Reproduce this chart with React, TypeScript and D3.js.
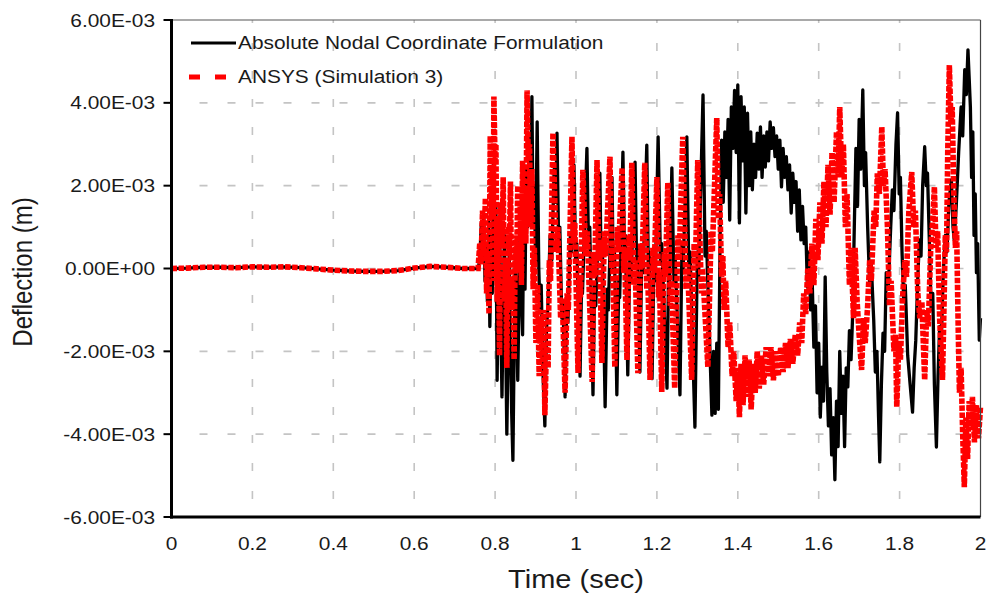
import React from "react";
import * as d3 from "d3";

const WIDTH = 987;
const HEIGHT = 597;
const PLOT = { left: 171.5, right: 980.5, top: 20, bottom: 517 };

const xTicks = [0, 0.2, 0.4, 0.6, 0.8, 1, 1.2, 1.4, 1.6, 1.8, 2];
const xTickLabels = ["0", "0.2", "0.4", "0.6", "0.8", "1", "1.2", "1.4", "1.6", "1.8", "2"];
const yTicks = [-6e-3, -4e-3, -2e-3, 0, 2e-3, 4e-3, 6e-3];
const yTickLabels = ["-6.00E-03", "-4.00E-03", "-2.00E-03", "0.00E+00", "2.00E-03", "4.00E-03", "6.00E-03"];
const seriesNames = ["Absolute Nodal Coordinate Formulation", "ANSYS (Simulation 3)"];
const xTitle = "Time (sec)";
const yTitle = "Deflection (m)";

// deflection values below are in units of 1e-3 m
const UNIT = 1e-3;

type Pt = [number, number];

const restPhase: Pt[] = [
  [0, 0], [0.04, 0.01], [0.08, 0.03], [0.12, 0.03], [0.16, 0.02], [0.2, 0.04], [0.24, 0.03],
  [0.28, 0.04], [0.32, 0.02], [0.36, -0.01], [0.4, -0.04], [0.44, -0.06], [0.48, -0.07],
  [0.52, -0.07], [0.56, -0.05], [0.6, 0.01], [0.64, 0.05], [0.68, 0.03], [0.72, 0.0], [0.755, 0.0],
];

const ancfBurst: Pt[] = [
  [0.758, 0.0], [0.762, 0.2], [0.766, 1.1], [0.769, 0.2], [0.772, 1.3], [0.775, -0.3], [0.778, 0.6],
  [0.781, -0.8], [0.784, 1.2], [0.787, -1.4], [0.79, 0.8], [0.793, -0.6], [0.796, 2.6], [0.799, 0.4],
  [0.802, 1.5], [0.805, -2.7], [0.808, -0.5], [0.811, 1.2], [0.814, -1.2], [0.817, -3.1], [0.82, -1.0],
  [0.823, 0.8], [0.826, -1.6], [0.829, -4.0], [0.832, -2.0], [0.835, 0.3], [0.838, -1.8], [0.841, -3.5],
  [0.844, -4.63], [0.847, -2.0], [0.85, 0.5], [0.853, -1.0], [0.856, -2.7], [0.859, -0.8], [0.862, 1.0],
  [0.865, -0.6], [0.868, -1.6], [0.871, 1.5], [0.874, -0.5], [0.877, 2.4], [0.88, 1.0], [0.884, 3.2],
  [0.888, 2.0], [0.891, 4.15], [0.894, 1.0], [0.897, 2.0], [0.9, 0.2], [0.904, 3.54], [0.908, 0.0],
  [0.911, -1.0], [0.914, -0.4], [0.918, -2.4], [0.923, -3.8], [0.927, -1.5], [0.931, -0.8],
];

const ancfSteady: Pt[] = [
  [0.936, 0.8], [0.94, 0.2], [0.946, 2.4], [0.95, 1.6], [0.953, 3.27], [0.957, 0.6], [0.96, 1.0],
  [0.965, -1.2], [0.968, -0.8], [0.973, -3.1], [0.977, -0.9], [0.98, -1.3], [0.986, 0.8], [0.989, 0.4],
  [0.995, 2.5], [0.999, 0.2], [1.002, 0.6], [1.01, -2.6], [1.014, -0.2], [1.016, -0.6], [1.027, 2.9],
  [1.031, 0.5], [1.034, 1.0], [1.042, -3.05], [1.046, -0.4], [1.049, -0.9], [1.059, 2.3], [1.062, 0.2],
  [1.065, 0.7], [1.072, -3.34], [1.077, -0.5], [1.08, -1.0], [1.089, 2.2], [1.092, 0.0], [1.095, 0.5],
  [1.101, -3.05], [1.106, -0.2], [1.108, -0.7], [1.116, 2.81], [1.12, 0.3], [1.122, 0.8], [1.128, -2.57],
  [1.133, 0.2], [1.136, -0.3], [1.146, 2.57], [1.15, 0.0], [1.152, 0.5], [1.158, -2.5], [1.163, 0.5],
  [1.166, -0.1], [1.175, 2.98], [1.179, -0.2], [1.181, 0.4], [1.188, -2.66], [1.193, 0.3], [1.196, -0.3],
  [1.203, 3.18], [1.209, 0.1], [1.212, 0.6], [1.225, -2.89], [1.229, 0.0], [1.231, -0.5], [1.237, 2.43],
  [1.242, -0.3], [1.245, 0.3], [1.257, -3.05], [1.262, 0.6], [1.265, 0.0], [1.274, 3.18], [1.279, -0.2],
  [1.282, 0.4], [1.294, -3.83], [1.3, 0.4], [1.303, -0.2], [1.314, 4.19], [1.319, 0.3], [1.322, 0.9],
  [1.336, -3.54], [1.34, -2.0], [1.344, -3.5], [1.348, -1.8], [1.352, -3.4], [1.356, 0.5], [1.36, 3.1],
];

const ancfHump: Pt[] = [
  [1.364, 1.6], [1.368, 3.3], [1.372, 2.2], [1.376, 3.6], [1.38, 1.17], [1.384, 3.9], [1.388, 2.9],
  [1.392, 4.3], [1.396, 2.8], [1.4, 4.43], [1.404, 1.1], [1.408, 4.15], [1.412, 2.6], [1.416, 3.9],
  [1.42, 1.34], [1.424, 3.75], [1.428, 2.0], [1.432, 3.3], [1.436, 1.9], [1.44, 3.0], [1.444, 2.2],
  [1.448, 3.27], [1.452, 2.4], [1.456, 3.42], [1.46, 2.2], [1.464, 3.2], [1.468, 2.45], [1.472, 3.3],
  [1.476, 2.6], [1.48, 3.54], [1.484, 2.9], [1.488, 3.4], [1.492, 2.7], [1.496, 3.2], [1.5, 2.4],
  [1.504, 3.1], [1.508, 1.97], [1.512, 2.9], [1.516, 2.2], [1.52, 2.7], [1.524, 1.9], [1.528, 2.5],
  [1.532, 1.34], [1.536, 2.3], [1.54, 1.6], [1.544, 2.1], [1.548, 0.9], [1.552, 1.9], [1.556, 0.69],
  [1.56, 1.5], [1.564, 0.6], [1.568, 1.0], [1.572, -0.45], [1.576, 0.4], [1.58, -1.0], [1.584, -0.3],
  [1.588, -1.9], [1.592, -0.9], [1.596, -3.0], [1.6, -1.8], [1.604, -3.59], [1.608, -2.38], [1.612, -3.2],
  [1.616, -0.2], [1.62, -2.5], [1.624, -3.8], [1.628, -2.9], [1.632, -4.5], [1.636, -3.6], [1.64, -5.1],
  [1.644, -3.2], [1.648, -4.3], [1.652, -2.0], [1.656, -3.5], [1.66, -2.6], [1.664, -4.3], [1.668, -2.4],
  [1.672, -2.86], [1.676, -1.5], [1.68, -2.2], [1.684, -1.1], [1.688, 1.0], [1.692, 2.9],
];

const ancfLate: Pt[] = [
  [1.696, 1.5], [1.7, 3.6], [1.704, 2.4], [1.709, 4.31], [1.713, 2.0], [1.716, 2.8], [1.721, 1.0],
  [1.726, -0.4], [1.73, 0.1], [1.736, -1.24], [1.74, -2.5], [1.744, -2.0], [1.748, -3.6], [1.751, -4.67],
  [1.755, -2.8], [1.759, -1.56], [1.763, -2.0], [1.767, -0.1], [1.772, -0.5], [1.778, 1.0], [1.782, 1.9],
  [1.786, 1.4], [1.791, 3.0], [1.795, 3.76], [1.799, 1.8], [1.802, 2.2], [1.806, 0.4], [1.81, -0.76],
  [1.814, -0.4], [1.82, -2.1], [1.826, -2.8], [1.832, -3.47], [1.836, -2.4], [1.84, -1.73], [1.845, -0.2],
  [1.849, 0.69], [1.853, 0.3], [1.857, 2.0], [1.862, 2.94], [1.866, 2.0], [1.869, 2.3], [1.874, 0.5],
  [1.878, -1.0], [1.882, -0.6], [1.886, -2.8], [1.891, -4.31], [1.895, -2.6], [1.899, -1.4], [1.903, -1.8],
  [1.908, -0.1], [1.913, 0.8], [1.917, 0.4], [1.922, 1.6], [1.928, 2.14], [1.932, 1.0], [1.935, 0.69],
  [1.94, 1.5], [1.946, 2.8], [1.952, 3.9], [1.956, 3.2], [1.961, 4.8], [1.965, 4.2], [1.969, 5.28],
  [1.972, 4.6], [1.975, 3.9], [1.978, 2.2], [1.981, 3.3], [1.984, 0.8], [1.987, 1.8], [1.99, -0.1],
  [1.993, 0.6], [1.997, -1.73], [2.0, -1.2],
];

const ansysBurst: Pt[] = [
  [0.758, 0.0], [0.762, 0.6], [0.765, 0.1], [0.769, 1.4], [0.772, 0.3], [0.776, 1.7], [0.779, -0.6],
  [0.782, 0.4], [0.785, -1.1], [0.788, 3.2], [0.791, 1.2], [0.793, 2.4], [0.795, -0.3], [0.797, 4.15],
  [0.8, 2.5], [0.802, 3.0], [0.805, -0.8], [0.808, 1.2], [0.811, -2.1], [0.814, 1.6], [0.817, 0.6],
  [0.82, 2.2], [0.823, -0.8], [0.826, 0.2], [0.829, -2.4], [0.832, 1.0], [0.835, 0.3], [0.838, 2.1],
  [0.841, -1.0], [0.844, -0.3], [0.847, -2.2], [0.85, 0.8], [0.853, -0.1], [0.856, 2.0], [0.859, 0.8],
  [0.862, 1.5], [0.865, -0.4], [0.868, 2.6], [0.871, 1.2], [0.874, 2.0], [0.876, 0.6], [0.879, 4.3],
  [0.882, 2.6], [0.885, 3.0], [0.888, 1.0], [0.891, 2.4], [0.894, -0.5], [0.897, 0.5], [0.901, -1.8],
  [0.905, -0.4], [0.909, -2.6], [0.913, -1.2], [0.917, -2.2], [0.92, -1.0], [0.923, -3.54], [0.927, -1.8],
  [0.931, -2.4], [0.934, 0.2], [0.937, -0.3],
];

const ansysSteady: Pt[] = [
  [0.943, 3.27], [0.951, 0.4], [0.955, 1.0], [0.962, -1.2], [0.966, -0.7], [0.973, -3.0], [0.978, -0.6],
  [0.981, -1.0], [0.99, 3.18], [0.994, 0.6], [0.997, 1.1], [1.005, -2.52], [1.009, -0.2], [1.011, -0.7],
  [1.017, 2.38], [1.024, 0.3], [1.028, 0.9], [1.04, -2.74], [1.044, 0.4], [1.046, -0.2], [1.052, 2.62],
  [1.056, 0.2], [1.058, 0.7], [1.064, -2.28], [1.07, 0.9], [1.073, 0.3], [1.084, 2.7], [1.088, 0.0],
  [1.09, 0.6], [1.096, -2.38], [1.102, 1.0], [1.105, 0.4], [1.114, 2.43], [1.118, -0.1], [1.12, 0.5],
  [1.126, -2.21], [1.131, 0.8], [1.133, 0.2], [1.138, 2.55], [1.143, -0.4], [1.146, 0.2], [1.153, -2.53],
  [1.16, 0.6], [1.163, 0.0], [1.17, 2.55], [1.175, -0.5], [1.177, 0.1], [1.183, -2.69], [1.19, 0.5],
  [1.193, -0.1], [1.2, 2.21], [1.204, -0.7], [1.206, -0.1], [1.212, -2.98], [1.218, 0.4], [1.221, -0.2],
  [1.227, 2.07], [1.233, -0.9], [1.236, -0.3], [1.244, -2.89], [1.252, 0.8], [1.255, 0.2], [1.264, 3.18],
  [1.272, -0.5], [1.276, 0.1], [1.286, -2.69], [1.292, 0.6], [1.295, 0.0], [1.301, 2.62], [1.31, -0.6],
  [1.313, 0.0], [1.326, -2.38], [1.334, 0.9], [1.337, 0.4], [1.348, 3.63], [1.352, 1.2], [1.355, 1.8],
  [1.36, -0.2], [1.363, 0.3],
];

const ansysValley: Pt[] = [
  [1.366, -1.0], [1.37, -0.3], [1.376, -1.9], [1.38, -1.3], [1.386, -2.6], [1.39, -2.0], [1.396, -3.2],
  [1.4, -2.4], [1.404, -3.59], [1.408, -2.3], [1.413, -3.3], [1.418, -2.1], [1.423, -3.1], [1.428, -2.2],
  [1.433, -3.4], [1.438, -2.3], [1.443, -3.0], [1.448, -2.0], [1.453, -2.9], [1.458, -2.1], [1.464, -2.8],
  [1.47, -1.9], [1.476, -2.6], [1.482, -1.9], [1.488, -2.7], [1.494, -2.0], [1.5, -2.6], [1.506, -1.9],
  [1.512, -2.5], [1.518, -1.8], [1.524, -2.4], [1.53, -1.7], [1.536, -2.3], [1.542, -1.6], [1.548, -2.1],
  [1.553, -1.3], [1.558, -1.8], [1.563, -0.6], [1.568, -1.1], [1.573, 0.0], [1.578, -0.6], [1.583, 0.6],
  [1.588, -0.4], [1.593, 1.2], [1.598, 0.2], [1.603, 1.6], [1.608, 0.6], [1.613, 2.1], [1.618, 1.0],
  [1.623, 2.5], [1.628, 1.3], [1.633, 2.8], [1.638, 1.6], [1.644, 3.3], [1.648, 2.2], [1.652, 3.9],
];

const ansysLate: Pt[] = [
  [1.657, 2.2], [1.661, 3.0], [1.666, 1.0], [1.67, 1.8], [1.676, -0.4], [1.68, 0.5], [1.686, -1.2],
  [1.69, 0.5], [1.695, -0.8], [1.7, -1.6], [1.706, -2.45], [1.711, -1.2], [1.715, -1.8], [1.721, -0.9],
  [1.726, 0.2], [1.73, -0.3], [1.737, 1.4], [1.741, 1.0], [1.745, 2.3], [1.75, 1.8], [1.756, 3.42],
  [1.76, 2.0], [1.764, 2.4], [1.77, 1.0], [1.775, -0.9], [1.779, -0.3], [1.786, -2.0], [1.79, -1.6],
  [1.793, -3.34], [1.798, -1.8], [1.802, -2.2], [1.808, -0.6], [1.813, 0.2], [1.817, -0.2], [1.823, 1.4],
  [1.83, 2.33], [1.835, 1.0], [1.839, 1.4], [1.845, -0.6], [1.85, -1.2], [1.855, -0.8], [1.862, -2.69],
  [1.867, -1.0], [1.871, -1.4], [1.877, 0.5], [1.882, 1.2], [1.886, 1.97], [1.89, 0.5], [1.894, 0.9],
  [1.899, -1.2], [1.906, -2.69], [1.91, -0.8], [1.913, 0.8], [1.916, 0.4], [1.919, 2.8], [1.923, 4.91],
  [1.927, 3.5], [1.93, 3.9], [1.934, 1.8], [1.938, 0.5], [1.941, 0.9], [1.945, -1.5], [1.948, -3.0],
  [1.952, -2.4], [1.956, -4.0], [1.96, -5.28], [1.964, -3.6], [1.968, -4.6], [1.972, -3.2], [1.976, -3.9],
  [1.98, -3.1], [1.985, -4.2], [1.99, -3.3], [1.995, -4.1], [2.0, -3.34],
];

const ancfSeries: Pt[] = [...restPhase, ...ancfBurst, ...ancfSteady, ...ancfHump, ...ancfLate];
const ansysSeries: Pt[] = [...restPhase, ...ansysBurst, ...ansysSteady, ...ansysValley, ...ansysLate];

const FONT = "'Liberation Sans', Arial, Helvetica, sans-serif";
const STRETCH = 1.16;
const TEXT_COLOR = "#1a1a1a";

export default function App() {
  const x = d3.scaleLinear().domain([0, 2]).range([PLOT.left, PLOT.right]);
  const y = d3.scaleLinear().domain([-6e-3, 6e-3]).range([PLOT.bottom, PLOT.top]);
  const line = d3
    .line<Pt>()
    .x((d) => x(d[0]))
    .y((d) => y(d[1] * UNIT));

  const gridX = xTicks.filter((t) => t > 0 && t < 2);
  const gridY = yTicks.filter((t) => Math.abs(t) < 5.9e-3);

  return (
    <svg
      width={WIDTH}
      height={HEIGHT}
      viewBox={`0 0 ${WIDTH} ${HEIGHT}`}
      style={{ position: "absolute", left: 0, top: 0, background: "#ffffff" }}
      fontFamily={FONT}
    >
      <rect x={0} y={0} width={WIDTH} height={HEIGHT} fill="#ffffff" />
      {/* grid */}
      <g stroke="#c4c4c4" strokeWidth={1.6} strokeDasharray="8,20">
        {gridX.map((t) => (
          <line key={"gx" + t} x1={x(t)} x2={x(t)} y1={PLOT.bottom - 18} y2={PLOT.top} />
        ))}
        {gridY.map((t) => (
          <line key={"gy" + t} x1={PLOT.left + 28} x2={PLOT.right} y1={y(t)} y2={y(t)} />
        ))}
      </g>

      {/* series */}
      <path d={line(ancfSeries) || ""} fill="none" stroke="#000000" strokeWidth={3.3} strokeLinejoin="round" />
      <path
        d={line(ansysSeries) || ""}
        fill="none"
        stroke="#ff0000"
        strokeWidth={5.6}
        strokeDasharray="5.5,1.6"
        strokeLinejoin="miter"
      />

      {/* frame */}
      <line x1={PLOT.left} x2={PLOT.right} y1={PLOT.top} y2={PLOT.top} stroke="#555" strokeWidth={1.2} />
      <line x1={PLOT.right} x2={PLOT.right} y1={PLOT.top} y2={PLOT.bottom} stroke="#444" strokeWidth={1.2} />
      <line x1={PLOT.left} x2={PLOT.left} y1={PLOT.top - 1} y2={PLOT.bottom + 1.5} stroke="#000" strokeWidth={3} />
      <line x1={PLOT.left - 1.5} x2={PLOT.right} y1={PLOT.bottom} y2={PLOT.bottom} stroke="#000" strokeWidth={3} />

      {/* y axis ticks and labels */}
      {yTicks.map((t, i) => (
        <g key={"yt" + t}>
          <line x1={PLOT.left - 8} x2={PLOT.left} y1={y(t)} y2={y(t)} stroke="#000" strokeWidth={2} />
          <text
            transform={`translate(155,${y(t) + 6.5}) scale(${STRETCH},1)`}
            textAnchor="end"
            fontSize={18}
            fill={TEXT_COLOR}
          >
            {yTickLabels[i]}
          </text>
        </g>
      ))}

      {/* x axis labels */}
      {xTicks.map((t, i) => (
        <text
          key={"xt" + t}
          transform={`translate(${x(t)},550) scale(${STRETCH},1)`}
          textAnchor="middle"
          fontSize={18}
          fill={TEXT_COLOR}
        >
          {xTickLabels[i]}
        </text>
      ))}

      {/* axis titles */}
      <text
        transform={`translate(${(PLOT.left + PLOT.right) / 2},588) scale(${STRETCH},1)`}
        textAnchor="middle"
        fontSize={25}
        fill={TEXT_COLOR}
      >
        {xTitle}
      </text>
      <text
        transform={`translate(32,272) rotate(-90) scale(1,${STRETCH})`}
        textAnchor="middle"
        fontSize={24}
        fill={TEXT_COLOR}
      >
        {yTitle}
      </text>

      {/* legend */}
      <line x1={191} x2={236} y1={43} y2={43} stroke="#000" strokeWidth={3} />
      <text transform={`translate(238,48.5) scale(${STRETCH},1)`} fontSize={18} fill={TEXT_COLOR}>
        {seriesNames[0]}
      </text>
      <line x1={189} x2={236} y1={77} y2={77} stroke="#ff0000" strokeWidth={5} strokeDasharray="11,15" />
      <text transform={`translate(238,83) scale(${STRETCH},1)`} fontSize={18} fill={TEXT_COLOR}>
        {seriesNames[1]}
      </text>
    </svg>
  );
}
